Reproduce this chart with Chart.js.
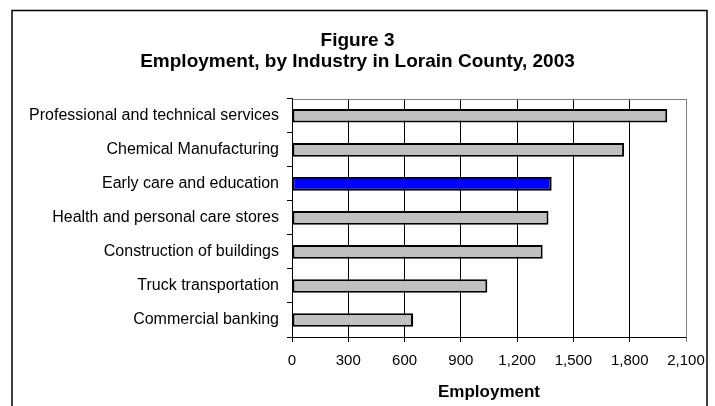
<!DOCTYPE html>
<html>
<head>
<meta charset="utf-8">
<script src="https://cdn.jsdelivr.net/npm/chart.js@4"></script>
<style>
  html, body { margin: 0; padding: 0; background: #fff; }
  #wrap { width: 715px; height: 406px; position: relative; }
</style>
</head>
<body>
<div id="wrap"><canvas id="c" width="715" height="406"></canvas></div>
<script>
const categories = [
  'Professional and technical services',
  'Chemical Manufacturing',
  'Early care and education',
  'Health and personal care stores',
  'Construction of buildings',
  'Truck transportation',
  'Commercial banking'
];
const employment = [2000, 1770, 1384, 1367, 1336, 1041, 645];
const highlighted = 'Early care and education';
const xTickValues = [0, 300, 600, 900, 1200, 1500, 1800, 2100];
const xTickLabels = ['0', '300', '600', '900', '1,200', '1,500', '1,800', '2,100'];
const titleLines = ['Figure 3', 'Employment, by Industry in Lorain County, 2003'];
const xAxisTitle = 'Employment';

const FONT = "'Liberation Sans', Arial, Helvetica, sans-serif";

const frame = {
  id: 'frame',
  beforeDraw(chart) {
    const ctx = chart.ctx;
    ctx.save();
    ctx.fillStyle = '#fff';
    ctx.fillRect(0, 0, chart.width, chart.height);
    ctx.strokeStyle = '#000';
    ctx.lineWidth = 1.5;
    ctx.strokeRect(12, 10.5, 695, 420);
    ctx.restore();
  },
  beforeDatasetsDraw(chart) {
    const a = chart.chartArea;
    const ctx = chart.ctx;
    ctx.save();
    ctx.strokeStyle = '#808080';
    ctx.lineWidth = 1;
    ctx.beginPath();
    ctx.moveTo(Math.round(a.left) + 0.5, Math.round(a.top) + 0.5);
    ctx.lineTo(Math.round(a.right) + 0.5, Math.round(a.top) + 0.5);
    ctx.lineTo(Math.round(a.right) + 0.5, Math.round(a.bottom) + 0.5);
    ctx.stroke();
    ctx.restore();
  }
};

new Chart(document.getElementById('c'), {
  type: 'bar',
  data: {
    labels: categories,
    datasets: [{
      data: employment,
      backgroundColor: categories.map(c => c === highlighted ? '#0000FF' : '#C0C0C0'),
      borderColor: '#000',
      borderWidth: 2,
      borderSkipped: false,
      barPercentage: 0.4,
      categoryPercentage: 1.0
    }]
  },
  options: {
    indexAxis: 'y',
    responsive: false,
    animation: false,
    devicePixelRatio: 1,
    layout: { padding: { left: 29, right: 29, top: 0, bottom: 0 } },
    plugins: {
      legend: { display: false },
      tooltip: { enabled: false },
      title: {
        display: true,
        text: titleLines,
        color: '#000',
        font: { family: FONT, size: 19, weight: 'bold', lineHeight: 1.1 },
        padding: { top: 30.5, bottom: 26.5 }
      }
    },
    scales: {
      x: {
        type: 'linear',
        min: 0,
        max: 2100,
        afterBuildTicks(scale) { scale.ticks = xTickValues.map(v => ({ value: v })); },
        afterFit(scale) { scale.height = 69; },
        ticks: {
          color: '#000',
          font: { family: FONT, size: 15 },
          padding: 10,
          callback: (v, i) => xTickLabels[i]
        },
        grid: {
          color: ctx => (ctx.tick && ctx.tick.value === 2100) ? '#808080' : '#000',
          lineWidth: 1,
          tickLength: 5,
          drawTicks: true
        },
        border: { color: '#000', width: 1 },
        title: {
          display: true,
          text: xAxisTitle,
          color: '#000',
          font: { family: FONT, size: 17, weight: 'bold', lineHeight: 1.1 },
          padding: { top: 0, bottom: 4 }
        }
      },
      y: {
        afterFit(scale) { scale.width = 263; },
        ticks: {
          color: '#000',
          font: { family: FONT, size: 16 },
          padding: 8
        },
        grid: {
          offset: true,
          drawOnChartArea: false,
          drawTicks: true,
          tickLength: 5,
          color: '#000'
        },
        border: { color: '#000', width: 1 }
      }
    }
  },
  plugins: [frame]
});
</script>
</body>
</html>
